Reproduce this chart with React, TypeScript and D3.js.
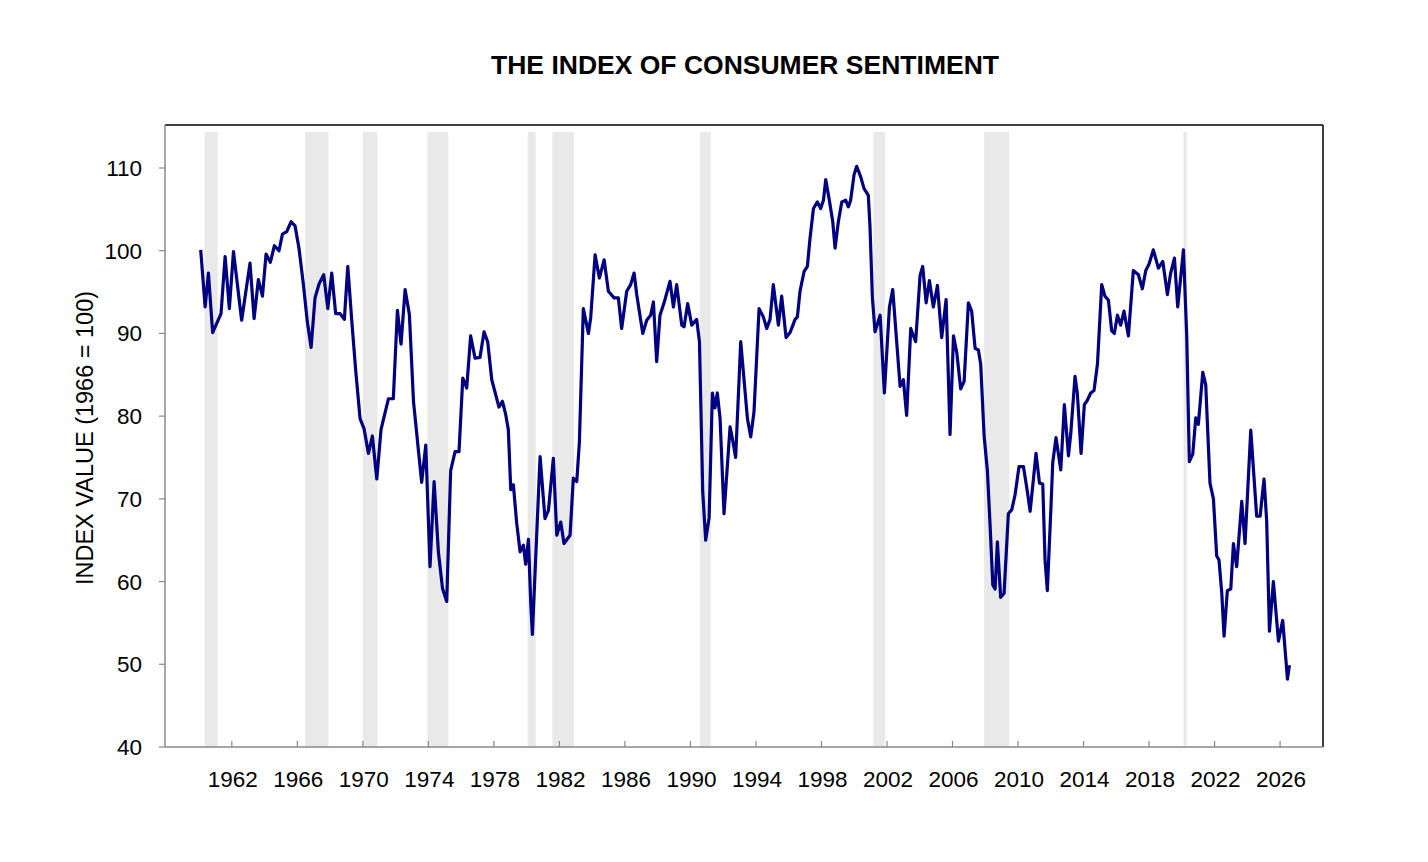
import React from 'react';
import * as d3 from 'd3';

// Sentiment readings (decimal year, index value)
const years: number[] = [
  1960.10, 1960.37, 1960.57, 1960.83, 1961.34, 1961.59, 1961.85, 1962.10, 1962.60, 1963.11,
  1963.36, 1963.62, 1963.87, 1964.09, 1964.35, 1964.60, 1964.88, 1965.09, 1965.35, 1965.62,
  1965.86, 1966.10, 1966.37, 1966.61, 1966.84, 1967.08, 1967.33, 1967.61, 1967.86, 1968.10,
  1968.34, 1968.61, 1968.87, 1969.08, 1969.32, 1969.56, 1969.83, 1970.07, 1970.34, 1970.58,
  1970.85, 1971.11, 1971.56, 1971.86, 1972.11, 1972.33, 1972.58, 1972.84, 1973.09, 1973.59,
  1973.84, 1974.10, 1974.35, 1974.61, 1974.86, 1975.12, 1975.36, 1975.63, 1975.87, 1976.10,
  1976.34, 1976.58, 1976.85, 1977.15, 1977.40, 1977.62, 1977.87, 1978.31, 1978.52, 1978.72,
  1978.88, 1979.03, 1979.19, 1979.39, 1979.60, 1979.80, 1979.94, 1980.11, 1980.25, 1980.35,
  1980.82, 1981.12, 1981.33, 1981.63, 1981.84, 1982.08, 1982.28, 1982.65, 1982.85, 1983.06,
  1983.22, 1983.46, 1983.77, 1983.91, 1984.18, 1984.44, 1984.73, 1984.99, 1985.34, 1985.60,
  1985.80, 1986.11, 1986.35, 1986.56, 1986.72, 1987.09, 1987.33, 1987.57, 1987.74, 1987.94,
  1988.14, 1988.39, 1988.75, 1988.96, 1989.16, 1989.47, 1989.61, 1989.83, 1990.08, 1990.38,
  1990.55, 1990.75, 1990.93, 1991.14, 1991.34, 1991.50, 1991.64, 1991.81, 1992.05, 1992.42,
  1992.56, 1992.76, 1993.07, 1993.48, 1993.68, 1993.88, 1994.19, 1994.45, 1994.66, 1994.86,
  1995.06, 1995.37, 1995.57, 1995.84, 1996.08, 1996.39, 1996.53, 1996.69, 1996.94, 1997.14,
  1997.30, 1997.51, 1997.75, 1997.95, 1998.12, 1998.26, 1998.48, 1998.69, 1998.83, 1999.03,
  1999.24, 1999.48, 1999.64, 1999.78, 1999.99, 2000.15, 2000.40, 2000.60, 2000.86, 2000.96,
  2001.11, 2001.27, 2001.58, 2001.84, 2002.15, 2002.35, 2002.80, 2003.00, 2003.20, 2003.45,
  2003.75, 2004.02, 2004.18, 2004.39, 2004.59, 2004.83, 2005.08, 2005.34, 2005.61, 2005.85,
  2006.06, 2006.26, 2006.50, 2006.71, 2006.97, 2007.17, 2007.38, 2007.58, 2007.72, 2007.93,
  2008.13, 2008.29, 2008.46, 2008.60, 2008.74, 2008.94, 2009.15, 2009.41, 2009.62, 2009.82,
  2010.06, 2010.33, 2010.53, 2010.74, 2011.10, 2011.31, 2011.51, 2011.65, 2011.79, 2012.00,
  2012.12, 2012.32, 2012.61, 2012.83, 2013.08, 2013.22, 2013.48, 2013.62, 2013.85, 2014.05,
  2014.20, 2014.44, 2014.64, 2014.85, 2015.11, 2015.31, 2015.52, 2015.72, 2015.88, 2016.07,
  2016.27, 2016.47, 2016.74, 2017.04, 2017.35, 2017.59, 2017.80, 2018.00, 2018.26, 2018.57,
  2018.84, 2019.12, 2019.32, 2019.55, 2019.75, 2020.10, 2020.30, 2020.46, 2020.67, 2020.85,
  2021.01, 2021.28, 2021.46, 2021.72, 2021.93, 2022.13, 2022.27, 2022.44, 2022.58, 2022.78,
  2022.99, 2023.15, 2023.35, 2023.66, 2023.86, 2024.21, 2024.57, 2024.78, 2025.02, 2025.18,
  2025.35, 2025.59, 2025.90, 2026.16, 2026.45, 2026.57,
];

const values: number[] = [
  100.1, 93.2, 97.3, 90.1, 92.4, 99.3, 93.0, 99.9, 91.6, 98.5,
  91.8, 96.5, 94.5, 99.6, 98.6, 100.6, 100.0, 102.0, 102.3, 103.5,
  103.0, 100.3, 95.9, 91.4, 88.3, 94.3, 96.0, 97.1, 93.0, 97.3,
  92.4, 92.4, 91.7, 98.1, 91.6, 85.6, 79.7, 78.5, 75.5, 77.6,
  72.4, 78.4, 82.1, 82.1, 92.8, 88.7, 95.3, 92.3, 81.8, 72.0,
  76.5, 61.8, 72.1, 63.6, 59.2, 57.6, 73.4, 75.7, 75.7, 84.6,
  83.4, 89.7, 87.0, 87.1, 90.2, 89.0, 84.4, 81.1, 81.8, 80.2,
  78.4, 71.1, 71.7, 67.1, 63.6, 64.4, 62.1, 65.1, 57.4, 53.6,
  75.1, 67.6, 68.6, 74.9, 65.6, 67.2, 64.6, 65.6, 72.5, 72.1,
  76.9, 93.0, 90.0, 91.9, 99.5, 96.7, 98.9, 95.1, 94.3, 94.3,
  90.6, 95.1, 95.9, 97.3, 94.7, 90.0, 91.6, 92.2, 93.8, 86.6,
  92.2, 93.7, 96.3, 93.2, 95.9, 91.0, 90.8, 93.6, 91.0, 91.7,
  89.0, 70.9, 65.0, 67.7, 82.8, 81.0, 82.8, 79.7, 68.2, 78.7,
  77.3, 75.0, 89.0, 79.7, 77.5, 80.5, 93.0, 92.0, 90.6, 91.7,
  95.9, 91.0, 94.5, 89.5, 90.1, 91.7, 92.0, 95.1, 97.5, 98.1,
  101.5, 105.1, 105.9, 105.1, 106.1, 108.6, 106.1, 103.5, 100.3, 103.5,
  105.9, 106.1, 105.3, 106.1, 109.2, 110.2, 108.9, 107.5, 106.7, 103.0,
  94.3, 90.2, 92.2, 82.8, 93.2, 95.3, 83.6, 84.4, 80.1, 90.6,
  89.0, 97.0, 98.1, 93.7, 96.4, 93.2, 95.8, 89.5, 94.1, 77.8,
  89.7, 87.7, 83.3, 84.2, 93.7, 92.7, 88.2, 88.0, 86.3, 77.6,
  73.4, 67.0, 59.6, 59.1, 64.8, 58.1, 58.6, 68.2, 68.7, 70.5,
  73.9, 73.9, 71.4, 68.5, 75.5, 71.9, 71.8, 62.6, 58.9, 68.5,
  74.4, 77.4, 73.5, 81.4, 75.2, 77.9, 84.8, 82.8, 75.5, 81.4,
  81.8, 82.8, 83.1, 86.3, 95.9, 94.5, 94.0, 90.3, 90.0, 92.2,
  91.0, 92.7, 89.7, 97.6, 97.1, 95.4, 97.6, 98.4, 100.1, 97.9,
  98.7, 94.7, 97.3, 99.1, 93.2, 100.1, 89.7, 74.5, 75.4, 79.8,
  79.0, 85.3, 83.8, 71.9, 70.0, 63.1, 62.6, 58.6, 53.4, 58.9,
  59.1, 64.6, 61.8, 69.7, 64.6, 78.3, 67.9, 67.9, 72.4, 67.4,
  54.0, 60.0, 52.8, 55.3, 48.2, 49.9,
];

// Shaded recession periods [start, end]
const recessions: [number, number][] = [
  [1960.33, 1961.14], [1966.47, 1967.9], [1970.0, 1970.89], [1973.94, 1975.22],
  [1980.06, 1980.55], [1981.57, 1982.89], [1990.59, 1991.24], [2001.17, 2001.88],
  [2007.93, 2009.47], [2020.1, 2020.3],
];

const xTicks: number[] = d3.range(1962, 2027, 4);
const yTicks: number[] = [40, 50, 60, 70, 80, 90, 100, 110];

const W = 1428;
const H = 862;
const plot = { left: 165, right: 1323, top: 125, bottom: 747 };
const font = 'Arial, "Liberation Sans", sans-serif';

const App = () => {
  const x = d3.scaleLinear().domain([1957.92, 2028.62]).range([plot.left, plot.right]);
  const y = d3.scaleLinear().domain([40, 110]).range([plot.bottom, 168]);

  const data = years.map((yr, i) => ({ yr, v: values[i] }));
  const line = d3
    .line<{ yr: number; v: number }>()
    .x((d) => x(d.yr))
    .y((d) => y(d.v));

  return (
    <svg
      width={W}
      height={H}
      style={{ position: 'absolute', left: 0, top: 0, background: '#fff' }}
      fontFamily={font}
    >
      <text x={745} y={74} textAnchor="middle" fontSize={26.5} fontWeight="bold">
        THE INDEX OF CONSUMER SENTIMENT
      </text>

      {recessions.map(([a, b], i) => (
        <rect
          key={i}
          x={x(a)}
          y={plot.top + 7}
          width={x(b) - x(a)}
          height={plot.bottom - plot.top - 7}
          fill="#e9e9e9"
        />
      ))}

      {/* frame: black top/right, grey left/bottom */}
      <line x1={plot.left} x2={plot.right} y1={plot.top} y2={plot.top} stroke="#000" strokeWidth={1.5} />
      <line x1={plot.right} x2={plot.right} y1={plot.top} y2={plot.bottom} stroke="#000" strokeWidth={1.5} />
      <line x1={plot.left} x2={plot.left} y1={plot.top} y2={plot.bottom} stroke="#888" strokeWidth={1.5} />
      <line x1={plot.left} x2={plot.right} y1={plot.bottom} y2={plot.bottom} stroke="#888" strokeWidth={1.5} />

      {yTicks.map((t) => (
        <g key={t}>
          <line x1={plot.left - 6} x2={plot.left} y1={y(t)} y2={y(t)} stroke="#888" strokeWidth={1.2} />
          <text x={142} y={y(t) + 8} textAnchor="end" fontSize={22.5}>
            {t}
          </text>
        </g>
      ))}

      {xTicks.map((t) => (
        <g key={t}>
          <line x1={x(t)} x2={x(t)} y1={plot.bottom - 6} y2={plot.bottom} stroke="#888" strokeWidth={1.2} />
          <text x={x(t) + 1} y={plot.bottom + 40} textAnchor="middle" fontSize={22.5}>
            {t}
          </text>
        </g>
      ))}

      <text
        transform={`translate(93,${(plot.top + plot.bottom) / 2 + 2}) rotate(-90)`}
        textAnchor="middle"
        fontSize={23.5}
      >
        INDEX VALUE (1966 = 100)
      </text>

      <path d={line(data) ?? ''} fill="none" stroke="#000080" strokeWidth={3.2} strokeLinejoin="round" />
    </svg>
  );
};

export default App;
